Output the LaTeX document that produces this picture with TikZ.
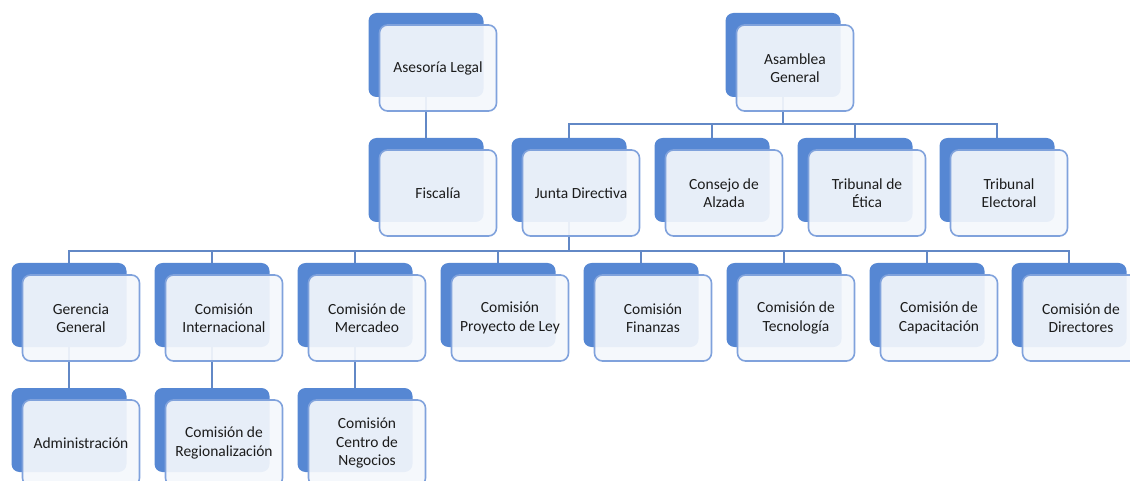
\documentclass[tikz,border=0pt]{standalone}
\usepackage{fontspec}
\setmainfont{Carlito}
\usetikzlibrary{
  positioning,
  backgrounds
}
\definecolor{unitblue}{RGB}{86,135,211}
\definecolor{unitedge}{RGB}{128,162,220}
\definecolor{unitfill}{RGB}{244,247,252}
\definecolor{linkblue}{RGB}{98,136,198}
\definecolor{unittext}{RGB}{28,28,28}

\begin{document}
\begin{tikzpicture}[
      x=1pt,y=-1pt,
      unit/.style={
         rectangle,
         rounded corners=8pt,
         minimum width=115pt,
         minimum height=84pt,
         inner sep=0pt,
         fill=unitblue
      },
      unit text/.style={
         rectangle,
         rounded corners=8pt,
         minimum width=117pt,
         minimum height=86pt,
         inner sep=0pt,
         line width=1.6pt,
         draw=unitedge,
         fill=unitfill,fill opacity=0.92,text opacity=1,
         text=unittext,align=center,
         font=\fontsize{15.5}{18.5}\selectfont
      },
      link/.style={draw=linkblue,line width=1.5pt},
      elbow/.style={
         to path={-- ++(0,#1) -| (\tikztotarget)}
      }
    ]
    \clip (0,0) rectangle (1130,481);
    % top row
    \node (asesoria) [unit] at (426,55) {};
    \node (asesoria t) [unit text] at ([shift={(12,13)}]asesoria.center) {Asesoría Legal};
    \node (asamblea) [unit] at (783,55) {};
    \node (asamblea t) [unit text] at ([shift={(12,13)}]asamblea.center) {Asamblea\\General};
    % second row
    \node (fiscalia) [unit] at (426,180) {};
    \node (fiscalia t) [unit text] at ([shift={(12,13)}]fiscalia.center) {Fiscalía};
    \node (junta) [unit] at (569,180) {};
    \node (junta t) [unit text] at ([shift={(12,13)}]junta.center) {Junta Directiva};
    \node (consejo) [unit] at (712,180) {};
    \node (consejo t) [unit text] at ([shift={(12,13)}]consejo.center) {Consejo de\\Alzada};
    \node (etica) [unit] at (855,180) {};
    \node (etica t) [unit text] at ([shift={(12,13)}]etica.center) {Tribunal de\\Ética};
    \node (electoral) [unit] at (997,180) {};
    \node (electoral t) [unit text] at ([shift={(12,13)}]electoral.center) {Tribunal\\Electoral};
    % third row
    \node (gerencia) [unit] at (69,305) {};
    \node (gerencia t) [unit text] at ([shift={(12,13)}]gerencia.center) {Gerencia\\General};
    \node (internacional) [unit] at (212,305) {};
    \node (internacional t) [unit text] at ([shift={(12,13)}]internacional.center) {Comisión\\Internacional};
    \node (mercadeo) [unit] at (355,305) {};
    \node (mercadeo t) [unit text] at ([shift={(12,13)}]mercadeo.center) {Comisión de\\Mercadeo};
    \node (proyecto) [unit] at (498,305) {};
    \node (proyecto t) [unit text] at ([shift={(12,13)}]proyecto.center) {Comisión\\Proyecto de Ley};
    \node (finanzas) [unit] at (641,305) {};
    \node (finanzas t) [unit text] at ([shift={(12,13)}]finanzas.center) {Comisión\\Finanzas};
    \node (tecnologia) [unit] at (784,305) {};
    \node (tecnologia t) [unit text] at ([shift={(12,13)}]tecnologia.center) {Comisión de\\Tecnología};
    \node (capacitacion) [unit] at (927,305) {};
    \node (capacitacion t) [unit text] at ([shift={(12,13)}]capacitacion.center) {Comisión de\\Capacitación};
    \node (directores) [unit] at (1069,305) {};
    \node (directores t) [unit text] at ([shift={(12,13)}]directores.center) {Comisión de\\Directores};
    % fourth row
    \node (administracion) [unit] at (69,430) {};
    \node (administracion t) [unit text] at ([shift={(12,13)}]administracion.center) {Administración};
    \node (regionalizacion) [unit] at (212,430) {};
    \node (regionalizacion t) [unit text] at ([shift={(12,13)}]regionalizacion.center) {Comisión de\\Regionalización};
    \node (negocios) [unit] at (355,430) {};
    \node (negocios t) [unit text] at ([shift={(12,13)}]negocios.center) {Comisión\\Centro de\\Negocios};
    % connectors
    \begin{scope}[on background layer]
      \draw[link] (asesoria) -- (fiscalia);
      \draw[link] (asamblea) to[elbow=69] (junta);
      \draw[link] (asamblea) to[elbow=69] (consejo);
      \draw[link] (asamblea) to[elbow=69] (etica);
      \draw[link] (asamblea) to[elbow=69] (electoral);
      \draw[link] (junta) to[elbow=71] (gerencia);
      \draw[link] (junta) to[elbow=71] (internacional);
      \draw[link] (junta) to[elbow=71] (mercadeo);
      \draw[link] (junta) to[elbow=71] (proyecto);
      \draw[link] (junta) to[elbow=71] (finanzas);
      \draw[link] (junta) to[elbow=71] (tecnologia);
      \draw[link] (junta) to[elbow=71] (capacitacion);
      \draw[link] (junta) to[elbow=71] (directores);
      \draw[link] (gerencia) -- (administracion);
      \draw[link] (internacional) -- (regionalizacion);
      \draw[link] (mercadeo) -- (negocios);
    \end{scope}
\end{tikzpicture}
\end{document}
